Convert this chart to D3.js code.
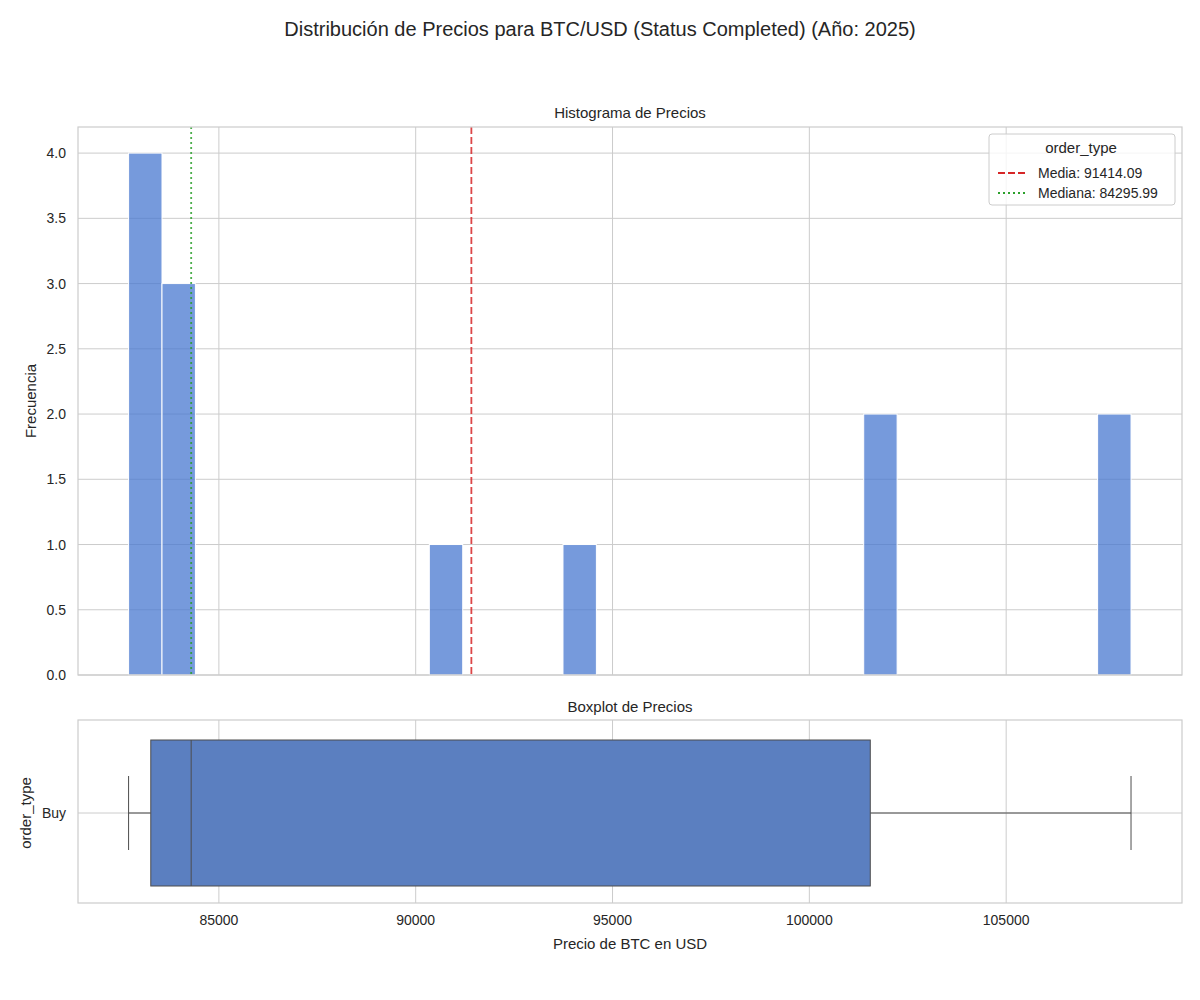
<!DOCTYPE html>
<html><head><meta charset="utf-8">
<script src="https://cdn.jsdelivr.net/npm/d3@7"></script>
<style>body{margin:0;background:#fff}text{font-family:"Liberation Sans",Arial,sans-serif;fill:#262626}</style>
</head><body><svg id="c" width="1200" height="1000"></svg>
<script>
const minPrice = 82706, maxPrice = 108172, nBins = 30;
const binIndex = [0, 1, 9, 13, 22, 29];
const binCounts = [4, 3, 1, 1, 2, 2];
const meanPrice = 91414.09, medianPrice = 84295.99;
const q1 = 83270, q3 = 101548;
const xTicks = [85000, 90000, 95000, 100000, 105000];
const yTicks = [0, 0.5, 1, 1.5, 2, 2.5, 3, 3.5, 4];

const svg = d3.select("#c");
const L = 78, R = 1182;
const x = d3.scaleLinear().domain([81421, 109467]).range([L, R]);
const y = d3.scaleLinear().domain([0, 4.2]).range([675, 127]);
const bw = (maxPrice - minPrice) / nBins;

svg.append("text").attr("x", 600).attr("y", 36).attr("text-anchor", "middle").attr("font-size", 20).text("Distribución de Precios para BTC/USD (Status Completed) (Año: 2025)");

// histogram panel
const g1 = svg.append("g");
g1.selectAll(".gx").data(xTicks).join("line").attr("x1", d => x(d)).attr("x2", d => x(d)).attr("y1", 127).attr("y2", 675).attr("stroke", "#cccccc");
g1.selectAll(".gy").data(yTicks).join("line").attr("x1", L).attr("x2", R).attr("y1", d => y(d)).attr("y2", d => y(d)).attr("stroke", "#cccccc");
g1.selectAll("rect.bar").data(binIndex).join("rect").attr("class", "bar")
  .attr("x", d => x(minPrice + d * bw)).attr("width", d => x(minPrice + (d + 1) * bw) - x(minPrice + d * bw))
  .attr("y", (d, i) => y(binCounts[i])).attr("height", (d, i) => y(0) - y(binCounts[i]))
  .attr("fill", "#4878d0").attr("fill-opacity", 0.75).attr("stroke", "#fff").attr("stroke-width", 1);
g1.append("line").attr("x1", x(meanPrice)).attr("x2", x(meanPrice)).attr("y1", 127).attr("y2", 675).attr("stroke", "#d62728").attr("stroke-opacity", 0.85).attr("stroke-width", 1.8).attr("stroke-dasharray", "7,3");
g1.append("line").attr("x1", x(medianPrice)).attr("x2", x(medianPrice)).attr("y1", 127).attr("y2", 675).attr("stroke", "#2ca02c").attr("stroke-opacity", 0.85).attr("stroke-width", 1.8).attr("stroke-dasharray", "2,3");
g1.append("rect").attr("x", L).attr("y", 127).attr("width", R - L).attr("height", 548).attr("fill", "none").attr("stroke", "#cccccc").attr("stroke-width", 1.2);
g1.selectAll(".yl").data(yTicks).join("text").attr("x", L - 12).attr("y", d => y(d) + 5).attr("text-anchor", "end").attr("font-size", 14).text(d => d.toFixed(1));
g1.append("text").attr("x", 630).attr("y", 118).attr("text-anchor", "middle").attr("font-size", 15).text("Histograma de Precios");
g1.append("text").attr("transform", "translate(36,401) rotate(-90)").attr("text-anchor", "middle").attr("font-size", 15).text("Frecuencia");
// legend
const lg = g1.append("g");
lg.append("rect").attr("x", 989).attr("y", 134).attr("width", 186).attr("height", 71).attr("rx", 3).attr("fill", "#fff").attr("fill-opacity", 0.8).attr("stroke", "#cccccc");
lg.append("text").attr("x", 1081).attr("y", 153).attr("text-anchor", "middle").attr("font-size", 15).text("order_type");
lg.append("line").attr("x1", 998).attr("x2", 1026).attr("y1", 173).attr("y2", 173).attr("stroke", "#d62728").attr("stroke-width", 1.8).attr("stroke-dasharray", "7,3");
lg.append("text").attr("x", 1038).attr("y", 178).attr("font-size", 14).text("Media: 91414.09");
lg.append("line").attr("x1", 998).attr("x2", 1026).attr("y1", 193).attr("y2", 193).attr("stroke", "#2ca02c").attr("stroke-width", 1.8).attr("stroke-dasharray", "2,3");
lg.append("text").attr("x", 1038).attr("y", 198).attr("font-size", 14).text("Mediana: 84295.99");

// boxplot panel
const g2 = svg.append("g");
const T = 720, B = 903, cy = 813;
g2.selectAll(".gx2").data(xTicks).join("line").attr("x1", d => x(d)).attr("x2", d => x(d)).attr("y1", T).attr("y2", B).attr("stroke", "#cccccc");
g2.append("line").attr("x1", L).attr("x2", R).attr("y1", cy).attr("y2", cy).attr("stroke", "#cccccc");
g2.append("line").attr("x1", x(minPrice)).attr("x2", x(q1)).attr("y1", cy).attr("y2", cy).attr("stroke", "#4d4d4d");
g2.append("line").attr("x1", x(q3)).attr("x2", x(maxPrice)).attr("y1", cy).attr("y2", cy).attr("stroke", "#4d4d4d");
[minPrice, maxPrice].forEach(v => g2.append("line").attr("x1", x(v)).attr("x2", x(v)).attr("y1", 776).attr("y2", 850).attr("stroke", "#4d4d4d"));
g2.append("rect").attr("x", x(q1)).attr("y", 740).attr("width", x(q3) - x(q1)).attr("height", 146).attr("fill", "#5b7fc0").attr("stroke", "#4d4d4d");
g2.append("line").attr("x1", x(medianPrice)).attr("x2", x(medianPrice)).attr("y1", 740).attr("y2", 886).attr("stroke", "#4d4d4d");
g2.append("rect").attr("x", L).attr("y", T).attr("width", R - L).attr("height", B - T).attr("fill", "none").attr("stroke", "#cccccc").attr("stroke-width", 1.2);
g2.selectAll(".xl").data(xTicks).join("text").attr("x", d => x(d)).attr("y", 925).attr("text-anchor", "middle").attr("font-size", 14).text(d => d);
g2.append("text").attr("x", L - 12).attr("y", cy + 5).attr("text-anchor", "end").attr("font-size", 14).text("Buy");
g2.append("text").attr("x", 630).attr("y", 712).attr("text-anchor", "middle").attr("font-size", 15).text("Boxplot de Precios");
g2.append("text").attr("x", 630).attr("y", 949).attr("text-anchor", "middle").attr("font-size", 15).text("Precio de BTC en USD");
g2.append("text").attr("transform", "translate(31,813) rotate(-90)").attr("text-anchor", "middle").attr("font-size", 15).text("order_type");
</script></body></html>
